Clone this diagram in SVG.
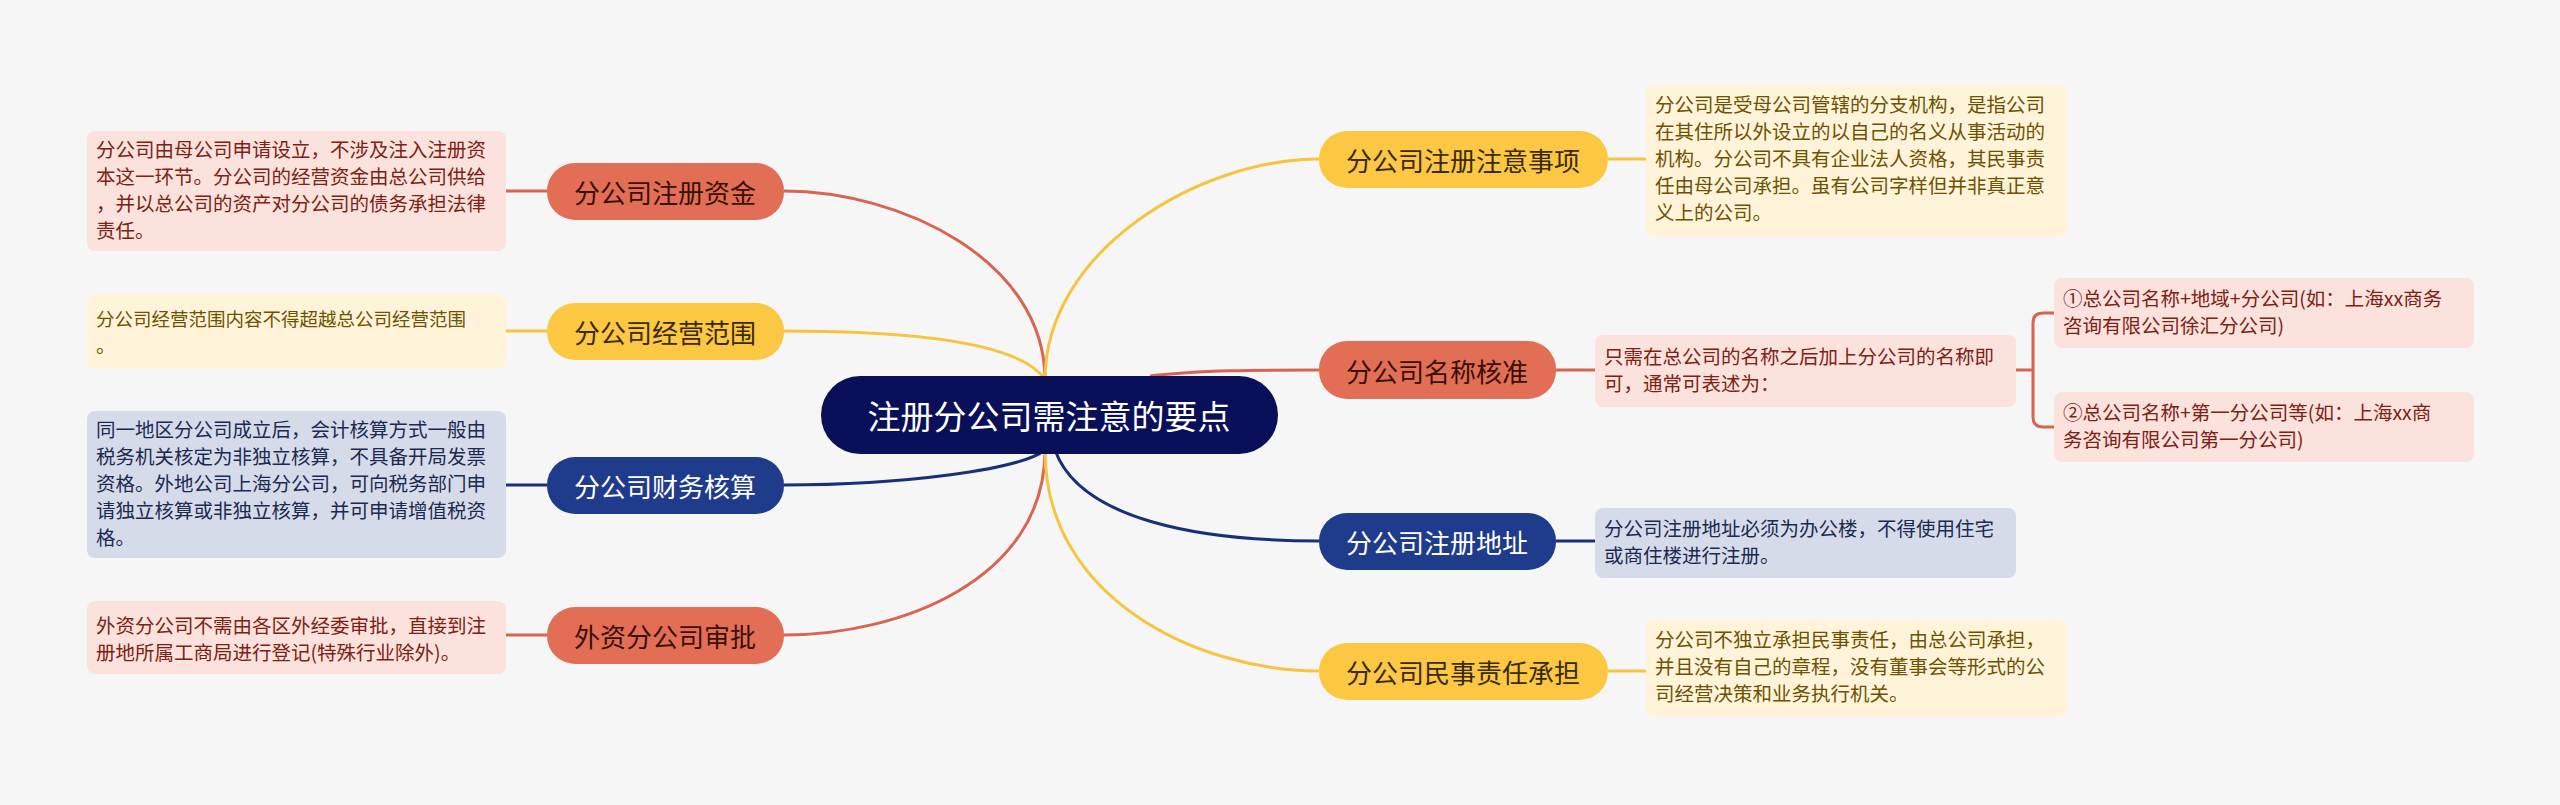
<svg xmlns="http://www.w3.org/2000/svg" width="2560" height="805" viewBox="0 0 2560 805">
<style>
text{font-family:"Noto Sans CJK SC","Liberation Sans",sans-serif}
.mt{font-size:26px;text-anchor:middle;dominant-baseline:central}
.bt{font-size:19.5px}
.r{fill:#e26e56}.y{fill:#fcc843}.b{fill:#1f3b8c}
.rb{fill:#fbe2dd}.yb{fill:#fff4da}.bb{fill:#d5dbe9}
.rt{fill:#7d2114}.yt{fill:#6e5200}.btc{fill:#1c2a52}
.cr{stroke:#d8654f}.cy{stroke:#f7c440}.cb{stroke:#16307c}
#conn path{fill:none;stroke-width:3}
</style>
<rect width="2560" height="805" fill="#f6f6f6"/>
<g id="conn">
<path class="cr" d="M1045 380 C1045 260 900 191 784 191"/>
<path class="cy" d="M1045 380 C1020 340 900 331 784 331"/>
<path class="cb" d="M1045 450 C1020 470 900 485 784 485"/>
<path class="cr" d="M1045 450 C1045 580 900 635 784 635"/>
<path class="cy" d="M1045 380 C1045 250 1200 159 1319 159"/>
<path class="cr" d="M1150 376 C1200 370 1260 370 1319 370"/>
<path class="cb" d="M1055 450 C1080 520 1200 541 1319 541"/>
<path class="cy" d="M1045 450 C1045 600 1200 671 1319 671"/>
<path class="cr" d="M506 191 H547"/>
<path class="cy" d="M506 331 H547"/>
<path class="cb" d="M506 485 H547"/>
<path class="cr" d="M506 635 H547"/>
<path class="cy" d="M1608 159 H1646"/>
<path class="cr" d="M1556 370 H1595"/>
<path class="cb" d="M1556 541 H1595"/>
<path class="cy" d="M1608 671 H1646"/>
<path class="cr" d="M2016 370 H2033 M2054 313 H2043 Q2033 313 2033 323 V417 Q2033 427 2043 427 H2054"/>
</g>
<g id="center"><rect x="821" y="376" width="457" height="78" rx="39" fill="#0a0f5a"/><text x="1049" y="415" class="mt" style="font-size:33px" fill="#fff">注册分公司需注意的要点</text></g>
<g id="n1"><rect x="547" y="163" width="237" height="57" rx="28" class="r"/><text x="665" y="191" class="mt" fill="#3a0f05">分公司注册资金</text></g>
<g id="n2"><rect x="547" y="303" width="237" height="57" rx="28" class="y"/><text x="665" y="331" class="mt" fill="#3a2a00">分公司经营范围</text></g>
<g id="n3"><rect x="547" y="457" width="237" height="57" rx="28" class="b"/><text x="665" y="485" class="mt" fill="#fff">分公司财务核算</text></g>
<g id="n4"><rect x="547" y="607" width="237" height="57" rx="28" class="r"/><text x="665" y="635" class="mt" fill="#3a0f05">外资分公司审批</text></g>
<g id="n5"><rect x="1319" y="131" width="289" height="57" rx="28" class="y"/><text x="1463" y="159" class="mt" fill="#3a2a00">分公司注册注意事项</text></g>
<g id="n6"><rect x="1319" y="341" width="237" height="58" rx="28" class="r"/><text x="1437" y="370" class="mt" fill="#3a0f05">分公司名称核准</text></g>
<g id="n7"><rect x="1319" y="513" width="237" height="57" rx="28" class="b"/><text x="1437" y="541" class="mt" fill="#fff">分公司注册地址</text></g>
<g id="n8"><rect x="1319" y="643" width="289" height="57" rx="28" class="y"/><text x="1463" y="671" class="mt" fill="#3a2a00">分公司民事责任承担</text></g>
<g id="t1"><rect x="87" y="131" width="419" height="120" rx="8" class="rb"/><text class="bt rt" x="96"><tspan x="96" y="157">分公司由母公司申请设立，不涉及注入注册资</tspan><tspan x="96" y="184">本这一环节。分公司的经营资金由总公司供给</tspan><tspan x="96" y="211">，并以总公司的资产对分公司的债务承担法律</tspan><tspan x="96" y="238">责任。</tspan></text></g>
<g id="t2"><rect x="87" y="294" width="419" height="75" rx="8" class="yb"/><text class="bt yt"><tspan x="96" y="326" style="font-size:18.5px">分公司经营范围内容不得超越总公司经营范围</tspan><tspan x="96" y="353">。</tspan></text></g>
<g id="t3"><rect x="87" y="411" width="419" height="147" rx="8" class="bb"/><text class="bt btc"><tspan x="96" y="437">同一地区分公司成立后，会计核算方式一般由</tspan><tspan x="96" y="464">税务机关核定为非独立核算，不具备开局发票</tspan><tspan x="96" y="491">资格。外地公司上海分公司，可向税务部门申</tspan><tspan x="96" y="518">请独立核算或非独立核算，并可申请增值税资</tspan><tspan x="96" y="545">格。</tspan></text></g>
<g id="t4"><rect x="87" y="601" width="419" height="73" rx="8" class="rb"/><text class="bt rt"><tspan x="96" y="633">外资分公司不需由各区外经委审批，直接到注</tspan><tspan x="96" y="660">册地所属工商局进行登记(特殊行业除外)。</tspan></text></g>
<g id="t5"><rect x="1646" y="85" width="421" height="152" rx="8" class="yb"/><text class="bt yt"><tspan x="1655" y="112">分公司是受母公司管辖的分支机构，是指公司</tspan><tspan x="1655" y="139">在其住所以外设立的以自己的名义从事活动的</tspan><tspan x="1655" y="166">机构。分公司不具有企业法人资格，其民事责</tspan><tspan x="1655" y="193">任由母公司承担。虽有公司字样但并非真正意</tspan><tspan x="1655" y="220">义上的公司。</tspan></text></g>
<g id="t6"><rect x="1595" y="335" width="421" height="72" rx="8" class="rb"/><text class="bt rt"><tspan x="1604" y="364">只需在总公司的名称之后加上分公司的名称即</tspan><tspan x="1604" y="391">可，通常可表述为：</tspan></text></g>
<g id="t7"><rect x="2054" y="278" width="420" height="70" rx="8" class="rb"/><text class="bt rt"><tspan x="2063" y="306">①总公司名称+地域+分公司(如：上海xx商务</tspan><tspan x="2063" y="333">咨询有限公司徐汇分公司)</tspan></text></g>
<g id="t8"><rect x="2054" y="392" width="420" height="70" rx="8" class="rb"/><text class="bt rt"><tspan x="2063" y="420">②总公司名称+第一分公司等(如：上海xx商</tspan><tspan x="2063" y="447">务咨询有限公司第一分公司)</tspan></text></g>
<g id="t9"><rect x="1595" y="508" width="421" height="70" rx="8" class="bb"/><text class="bt btc"><tspan x="1604" y="536">分公司注册地址必须为办公楼，不得使用住宅</tspan><tspan x="1604" y="563">或商住楼进行注册。</tspan></text></g>
<g id="t10"><rect x="1646" y="620" width="421" height="97" rx="8" class="yb"/><text class="bt yt"><tspan x="1655" y="647">分公司不独立承担民事责任，由总公司承担，</tspan><tspan x="1655" y="674">并且没有自己的章程，没有董事会等形式的公</tspan><tspan x="1655" y="701">司经营决策和业务执行机关。</tspan></text></g>
</svg>
